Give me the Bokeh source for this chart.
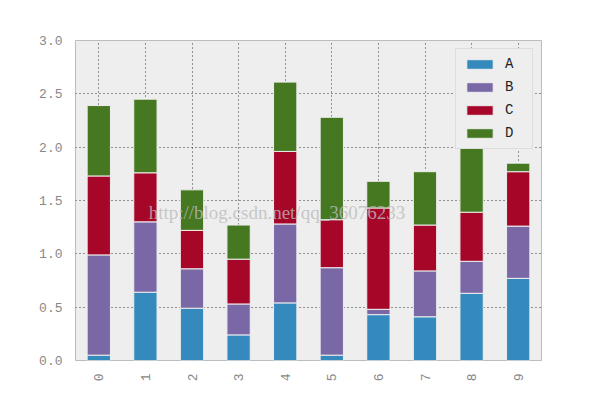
import math
from bokeh.plotting import figure
from bokeh.models import FixedTicker, NumeralTickFormatter, Label, Range1d
from bokeh.embed import file_html
from bokeh.resources import INLINE

categories = ["0", "1", "2", "3", "4", "5", "6", "7", "8", "9"]
A = [0.05, 0.64, 0.49, 0.24, 0.54, 0.05, 0.43, 0.41, 0.63, 0.77]
B = [0.94, 0.66, 0.37, 0.29, 0.74, 0.82, 0.05, 0.43, 0.30, 0.49]
C = [0.74, 0.46, 0.36, 0.42, 0.68, 0.45, 0.95, 0.43, 0.46, 0.51]
D = [0.66, 0.69, 0.38, 0.32, 0.65, 0.96, 0.25, 0.50, 0.76, 0.08]
series = ["A", "B", "C", "D"]
colors = ["#348ABD", "#7A68A6", "#A60628", "#467821"]
y_ticks = [0.0, 0.5, 1.0, 1.5, 2.0, 2.5, 3.0]

data = {"x": list(range(len(categories))), "A": A, "B": B, "C": C, "D": D}

p = figure(width=592, height=392, output_backend="svg", toolbar_location=None,
           x_range=Range1d(-0.5, len(categories) - 0.5), y_range=Range1d(0, 3.0),
           min_border_left=75, min_border_top=40, min_border_right=51, min_border_bottom=32)
p.background_fill_color = "#eeeeee"
p.border_fill_color = "white"
p.outline_line_color = "#bcbcbc"
p.outline_line_width = 1

p.vbar_stack(series, x="x", width=0.5, source=data, color=colors,
             line_color="#eeeeee", line_width=1, legend_label=series)

font = "Liberation Mono"
p.xaxis.ticker = FixedTicker(ticks=list(range(len(categories))))
p.xaxis.major_label_overrides = {i: c for i, c in enumerate(categories)}
p.xaxis.major_label_orientation = math.pi / 2
p.yaxis.ticker = FixedTicker(ticks=y_ticks)
p.yaxis.formatter = NumeralTickFormatter(format="0.0")
for ax in (p.xaxis, p.yaxis):
    ax.axis_line_color = None
    ax.major_tick_line_color = None
    ax.minor_tick_line_color = None
    ax.major_label_text_font = font
    ax.major_label_text_font_size = "13px"
    ax.major_label_text_color = "#888888"
    ax.major_label_standoff = 7

p.xgrid.ticker = FixedTicker(ticks=list(range(len(categories))))
p.ygrid.ticker = FixedTicker(ticks=y_ticks)
for g in (p.xgrid, p.ygrid):
    g.grid_line_color = "#333333"
    g.grid_line_dash = "1 3"
    g.grid_line_width = 1

lg = p.legend[0]
lg.location = "top_right"
lg.margin = 8
lg.padding = 7
lg.spacing = 7
lg.glyph_width = 33
lg.glyph_height = 12
lg.label_height = 12
lg.label_standoff = 9
lg.label_text_font = font
lg.label_text_font_size = "14px"
lg.label_text_font_style = "normal"
lg.label_text_color = "#222222"
lg.background_fill_color = "#eeeeee"
lg.background_fill_alpha = 1
lg.border_line_color = "#cccccc"

wm = Label(x=1.07, y=1.39, text="http://blog.csdn.net/qq_36076233",
           text_font="Liberation Serif", text_font_size="19px",
           text_color="#bbbbbb", text_alpha=0.8, text_baseline="middle")
p.add_layout(wm)

open("out.html", "w").write(file_html(p, INLINE))
